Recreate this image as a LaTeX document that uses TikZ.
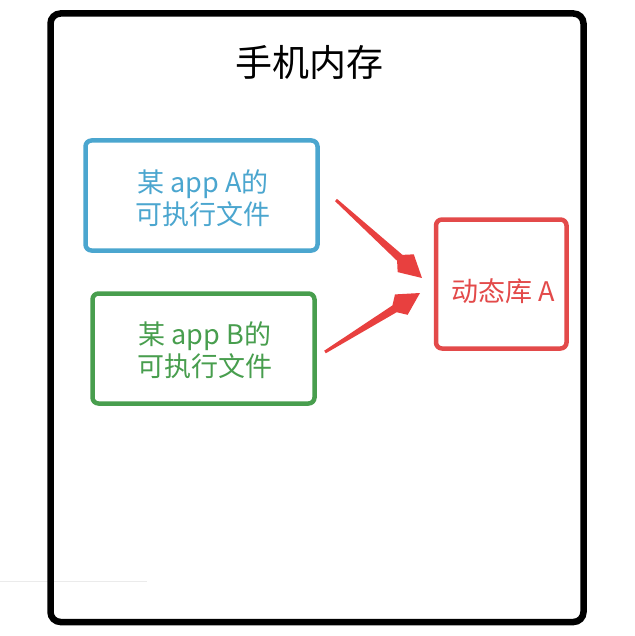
\documentclass[tikz,border=0pt]{standalone}
\usepackage{fontspec}
\setmainfont{Noto Sans CJK SC}
\usetikzlibrary{calc}
\definecolor{boxblue}{HTML}{4BA6CF}
\definecolor{boxgreen}{HTML}{489E4E}
\definecolor{boxred}{HTML}{E34A4A}
\definecolor{arrred}{HTML}{E8403F}
\definecolor{faint}{HTML}{EBEBEB}
\tikzset{
  frame/.style={draw=black, line width=6.5pt, rounded corners=10pt},
  appbox/.style={line width=4.5pt, rounded corners=6pt, fill=white},
  lbl/.style={font=\fontsize{27}{32}\selectfont, align=center, inner sep=0pt},
}
\begin{document}
\begin{tikzpicture}[x=1pt,y=-1pt]
\useasboundingbox (0,0) rectangle (634,636);
\draw[faint, line width=1.5pt] (0,581.5) -- (147,581.5);
\draw[frame] (50.5,13.5) rectangle (583.5,622);
\node[inner sep=0pt, font=\fontsize{37}{40}\selectfont] (title) at (309,62) {手机内存};
\draw[appbox, draw=boxblue] (85.5,140.5) rectangle (317.5,250.5);
\node[lbl, text=boxblue] (appA) at (203,198) {某 app A的\\可执行文件};
\draw[appbox, draw=boxgreen] (92.5,293.5) rectangle (314.5,403.5);
\node[lbl, text=boxgreen] (appB) at (205,350) {某 app B的\\可执行文件};
\draw[appbox, draw=boxred] (436,219.5) rectangle (566.5,348.5);
\node[lbl, text=boxred] (lib) at (503,291) {动态库 A};
% tapered arrows
\coordinate (t1) at (336,200);
\coordinate (h1) at (422,278);
\coordinate (t2) at (325,352);
\coordinate (h2) at (420,293);
\foreach \t/\h in {t1/h1,t2/h2}{
  \coordinate (b) at ($(\h)!22pt!(\t)$);
  \coordinate (bb) at ($(\h)!30pt!(\t)$);
  \fill[arrred] ($(\t)!1.5pt!90:(\h)$) -- ($(bb)!4pt!-90:(\t)$) -- ($(b)!12pt!-90:(\t)$) -- (\h)
     -- ($(b)!12pt!90:(\t)$) -- ($(bb)!4pt!90:(\t)$) -- ($(\t)!1.5pt!-90:(\h)$) -- cycle;
}
\end{tikzpicture}
\end{document}
